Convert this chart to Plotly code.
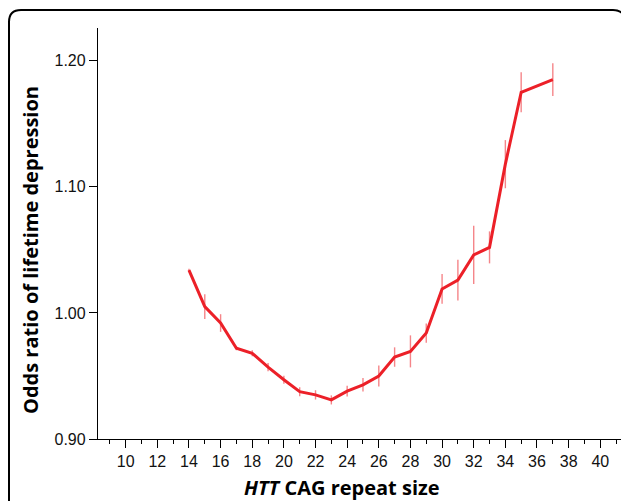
import plotly.graph_objects as go

# CAG repeat sizes (36 not shown in the reference)
cag_sizes = [14, 15, 16, 17, 18, 19, 20, 21, 22, 23, 24, 25, 26, 27, 28, 29, 30, 31, 32, 33, 34, 35, 37]
odds_ratio = [1.034, 1.005, 0.992, 0.972, 0.968, 0.957, 0.947, 0.9375, 0.935, 0.931, 0.938, 0.943,
              0.950, 0.965, 0.9695, 0.984, 1.019, 1.026, 1.046, 1.052, 1.118, 1.175, 1.185]
ci_half = [0.001, 0.0099, 0.0070, 0.0016, 0.0024, 0.0032, 0.0032, 0.0036, 0.0037, 0.0036, 0.0042, 0.0053,
           0.0083, 0.0077, 0.0127, 0.0077, 0.0118, 0.0161, 0.0231, 0.0127, 0.0191, 0.0159, 0.0130]
x_tick_vals = [10, 12, 14, 16, 18, 20, 22, 24, 26, 28, 30, 32, 34, 36, 38, 40]
y_tick_vals = [0.90, 1.00, 1.10, 1.20]
y_tick_text = ["0.90", "1.00", "1.10", "1.20"]
x_title = "<b><i>HTT</i> CAG repeat size</b>"
y_title = "<b>Odds ratio of lifetime depression</b>"

RED = "rgb(236,32,40)"

fig = go.Figure()
fig.add_trace(go.Scatter(
    x=cag_sizes, y=odds_ratio, mode="lines",
    line=dict(color=RED, width=3),
    error_y=dict(type="data", array=ci_half, color="rgba(236,32,40,0.55)", thickness=1.4, width=0),
    showlegend=False, hoverinfo="x+y",
))

OFF = 8  # page body margin
W, H = 629 - OFF, 501 - OFF
L, R, T, B = 98 - OFF, 5, 28 - OFF, 62
pw, ph = W - L - R, H - T - B

def px(x):
    return (x - OFF - L) / pw

def py(y):
    return (H - B - (y - OFF)) / ph

# rounded frame
x0, x1, y0, y1 = 9, 625, 10, 520
r = 12
path = (f"M {px(x0)},{py(y0 + r)} Q {px(x0)},{py(y0)} {px(x0 + r)},{py(y0)} "
        f"L {px(x1 - r)},{py(y0)} Q {px(x1)},{py(y0)} {px(x1)},{py(y0 + r)} "
        f"L {px(x1)},{py(y1)} M {px(x0)},{py(y0 + r)} L {px(x0)},{py(y1)}")
fig.add_shape(type="path", path=path, xref="paper", yref="paper",
              line=dict(color="black", width=2))

title_font = dict(family="Open Sans", size=20, color="black")
fig.add_annotation(text=x_title, xref="paper", yref="paper", x=px(342), y=py(487),
                   xanchor="center", yanchor="middle", showarrow=False, font=title_font)
fig.add_annotation(text=y_title, xref="paper", yref="paper", x=px(30), y=py(250),
                   xanchor="center", yanchor="middle", showarrow=False, font=title_font,
                   textangle=-90)

fig.update_layout(
    width=W, height=H,
    margin=dict(l=L, r=R, t=T, b=B),
    plot_bgcolor="white", paper_bgcolor="white",
    font=dict(family="Liberation Sans, Arial", size=16, color="#111"),
    xaxis=dict(
        range=[8.25, 41.5], tickmode="array", tickvals=x_tick_vals,
        showline=True, linecolor="black", linewidth=1.3,
        ticks="outside", ticklen=8, tickwidth=1.3, tickcolor="black",
        minor=dict(dtick=1, tick0=0, ticks="outside", ticklen=4, tickwidth=1.2, tickcolor="black"),
        showgrid=False, zeroline=False, tickfont=dict(size=16),
    ),
    yaxis=dict(
        range=[0.9, 1.226], tickmode="array", tickvals=y_tick_vals, ticktext=y_tick_text,
        showline=True, linecolor="black", linewidth=1.3,
        ticks="outside", ticklen=8, tickwidth=1.3, tickcolor="black",
        showgrid=False, zeroline=False, tickfont=dict(size=16),
    ),
)

fig.write_html("out.html")
